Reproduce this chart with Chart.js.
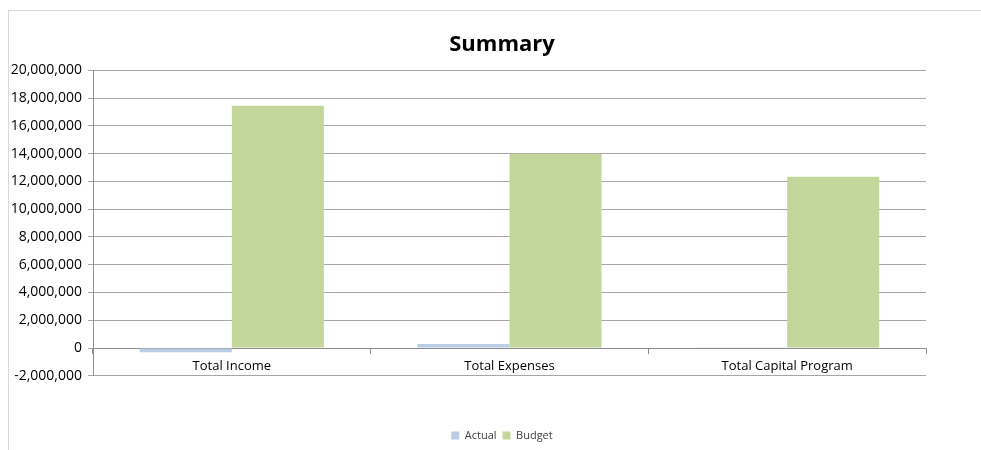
<!DOCTYPE html>
<html><head><meta charset="utf-8">
<script src="https://cdn.jsdelivr.net/npm/chart.js@4.4.1/dist/chart.umd.min.js"></script>
<style>
html,body{margin:0;padding:0;background:#fff;overflow:hidden;}
#wrap{position:absolute;left:8px;top:10px;width:990px;height:460px;border-left:1px solid #d9d9d9;border-top:1px solid #d9d9d9;}
#c{position:absolute;left:0;top:0;}
</style></head>
<body>
<div id="wrap"><canvas id="c" width="986" height="440" style="width:986px;height:440px"></canvas></div>
<script>
const categories = ["Total Income", "Total Expenses", "Total Capital Program"];
const actualValues = [-300000, 290000, 20000];
const budgetValues = [17450000, 14000000, 12330000];
const yMin = -2000000, yMax = 20000000, yStep = 2000000;

const FONT = "'Open Sans', sans-serif";
new Chart(document.getElementById('c'), {
  type: 'bar',
  data: {
    labels: categories,
    datasets: [
      { label: 'Actual', data: actualValues, backgroundColor: '#B9CDE5', barPercentage: 1, categoryPercentage: 0.663 },
      { label: 'Budget', data: budgetValues, backgroundColor: '#C3D69B', barPercentage: 1, categoryPercentage: 0.663 }
    ]
  },
  options: {
    responsive: false,
    animation: false,
    layout: { padding: { top: 13, right: 0, bottom: 0, left: 0 } },
    plugins: {
      title: { display: true, text: 'Summary', color: '#000', font: { family: FONT, size: 22, weight: 'bold' }, padding: { top: 8, bottom: 12 } },
      subtitle: { display: true, position: 'bottom', weight: 500, text: ' ', font: { size: 1 }, padding: { top: 0, bottom: 47 } },
      legend: { position: 'bottom', weight: 1000, labels: { color: '#404040', font: { family: FONT, size: 11 }, boxWidth: 8, boxHeight: 8, padding: 6 } },
      tooltip: { enabled: false }
    },
    scales: {
      x: {
        position: { y: 0 },
        grid: { display: true, drawOnChartArea: false, offset: true, tickLength: 5, color: '#8c8c8c' },
        border: { display: true, color: '#8c8c8c' },
        ticks: { color: '#000', font: { family: FONT, size: 13 }, padding: 5, maxRotation: 0 }
      },
      y: {
        min: yMin, max: yMax,
        grid: { color: '#a6a6a6', tickLength: 5 },
        border: { display: true, color: '#8c8c8c' },
        ticks: { stepSize: yStep, color: '#000', font: { family: FONT, size: 14 }, padding: 6,
          callback: v => v.toLocaleString('en-US') },
        afterFit: s => { s.width = 84; }
      },
      yPad: {
        position: 'right', display: true, min: yMin, max: yMax,
        grid: { display: false }, border: { display: false }, ticks: { display: false },
        afterFit: s => { s.width = 69; }
      }
    }
  }
});
</script>
</body></html>
